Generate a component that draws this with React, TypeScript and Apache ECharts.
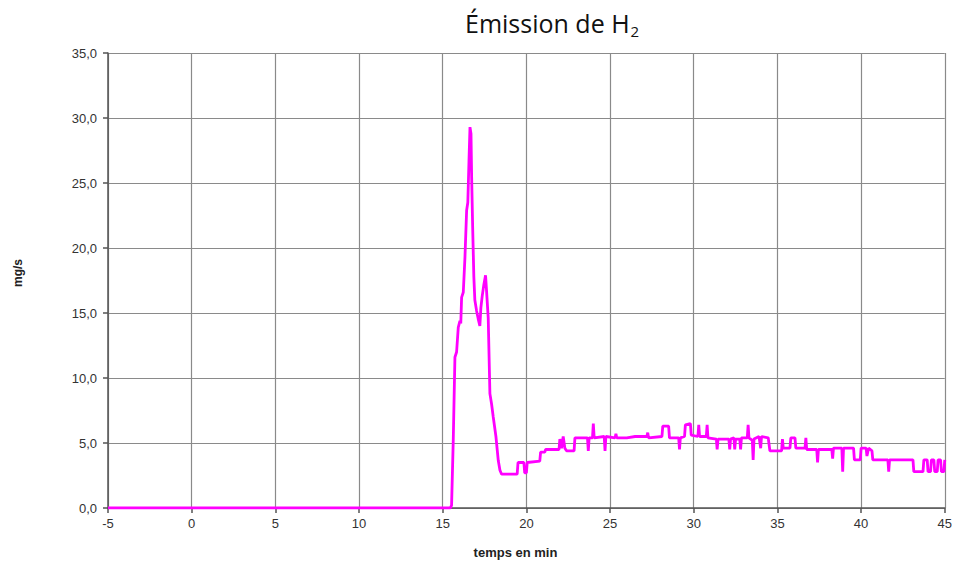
import React, { useEffect, useRef } from "react";
import * as echarts from "echarts";

// time in minutes
const timeMin: number[] = [
  -5, 15.45, 15.53, 15.63, 15.73, 15.83, 15.93, 16.03, 16.08, 16.13, 16.23, 16.33, 16.43, 16.5, 16.57, 16.63,
  16.69, 16.73, 16.79, 16.86, 16.92, 17.02, 17.12, 17.22, 17.28, 17.36, 17.46, 17.56, 17.62, 17.72, 17.82,
  17.92, 18.02, 18.18, 18.32, 18.42, 18.52, 19.45, 19.5, 19.85, 19.9, 20.0, 20.05, 20.8, 20.85, 21.1, 21.15,
  21.95, 22.0, 22.1, 22.2, 22.3, 22.4, 22.85, 22.9, 23.65, 23.7, 23.75, 23.95, 24.0, 24.05, 24.65, 24.7, 24.75,
  25.3, 25.35, 25.4, 26.0, 26.5, 27.2, 27.25, 27.3, 28.1, 28.15, 28.5, 28.55, 29.1, 29.15, 29.2, 29.45, 29.5, 29.8, 29.85, 30.25, 30.3, 30.35, 30.75,
  30.8, 30.85, 31.35, 31.4, 31.45, 32.1, 32.15, 32.2, 32.4, 32.45, 32.5, 32.75, 32.8, 32.85, 33.2, 33.25, 33.3,
  33.5, 33.55, 33.6, 33.9, 34.0, 34.05, 34.45, 34.55, 35.25, 35.3, 35.35, 35.75, 35.8, 36.05, 36.1, 36.65,
  36.7, 36.75, 37.35, 37.4, 37.45, 38.25, 38.3, 38.35, 38.85, 38.9, 38.95, 39.55, 39.6, 39.95, 40.0, 40.3,
  40.35, 40.45, 40.65, 40.7, 41.6, 41.65, 41.7, 43.1, 43.15, 43.7, 43.75, 43.95, 44.0, 44.15, 44.2, 44.35,
  44.4, 44.55, 44.6, 44.75, 44.8, 44.95, 45.0,
];

// H2 emission in mg/s
const h2MgPerS: number[] = [
  0, 0, 0.2, 5.2, 11.6, 12.0, 13.9, 14.4, 14.2, 16.2, 16.6, 19.3, 22.9, 23.5, 26.7, 29.3,
  28.8, 25.4, 21.6, 17.8, 16.0, 15.2, 14.55, 14.0, 15.4, 16.3, 17.2, 17.9, 16.7, 14.6, 8.8,
  8.0, 7.0, 5.5, 3.65, 2.9, 2.6, 2.6, 3.5, 3.5, 2.7, 2.7, 3.5, 3.6, 4.3, 4.3, 4.5,
  4.5, 5.3, 4.6, 5.5, 4.6, 4.4, 4.4, 5.4, 5.4, 4.4, 5.4, 5.4, 6.5, 5.4, 5.5, 4.4, 5.5,
  5.4, 5.7, 5.4, 5.4, 5.5, 5.5, 5.8, 5.4, 5.5, 6.3, 6.3, 5.4, 5.4, 4.5, 5.4, 5.5, 6.4, 6.5, 5.6, 5.5, 6.4, 5.5, 5.5,
  6.4, 5.4, 5.3, 4.5, 5.3, 5.3, 4.5, 5.3, 5.4, 4.5, 5.3, 5.3, 4.5, 5.4, 5.4, 6.4, 5.4,
  5.2, 3.7, 5.3, 5.5, 4.6, 5.5, 5.4, 4.4, 4.4, 5.3, 4.6, 4.6, 5.4, 5.4, 4.6, 4.6,
  5.4, 4.5, 4.5, 3.5, 4.5, 4.5, 3.8, 4.6, 4.6, 2.8, 4.6, 4.6, 3.7, 3.7, 4.6, 4.6,
  4.0, 4.6, 4.4, 3.7, 3.7, 2.8, 3.7, 3.7, 2.8, 2.8, 3.7, 3.7, 2.8, 2.8, 3.7, 3.7,
  2.8, 2.8, 3.7, 3.7, 2.8, 2.8, 3.7,
];

const xMin = -5;
const xMax = 45;
const xStep = 5;
const yMin = 0;
const yMax = 35;
const yStep = 5;

export default function App() {
  const ref = useRef<HTMLDivElement>(null);
  useEffect(() => {
    if (!ref.current) return;
    const chart = echarts.init(ref.current, undefined, { renderer: "svg" });
    const data = timeMin.map((t, i) => [t, h2MgPerS[i]]);
    const labelFont = "'Liberation Sans', Arial, sans-serif";
    chart.setOption({
      animation: false,
      backgroundColor: "#ffffff",
      title: {
        text: "{a|Émission de H}{b|2}",
        left: 460,
        top: 3,
        textStyle: {
          fontWeight: "normal",
          rich: {
            a: {
              fontFamily: "'Open Sans', sans-serif",
              fontSize: 25,
              fontWeight: "normal",
              color: "#111",
              lineHeight: 30,
            },
            b: {
              fontFamily: "'Open Sans', sans-serif",
              fontSize: 15,
              fontWeight: "normal",
              color: "#111",
              verticalAlign: "bottom",
              lineHeight: 14,
              padding: [12, 0, 0, 1],
            },
          },
        },
      },
      grid: { left: 108, right: 10, top: 53, bottom: 53, containLabel: false },
      xAxis: {
        type: "value",
        min: xMin,
        max: xMax,
        interval: xStep,
        axisLine: { show: true, onZero: false, lineStyle: { color: "#555", width: 1.5 } },
        axisTick: { show: true, inside: false, length: 5, lineStyle: { color: "#555", width: 1.5 } },
        axisLabel: {
          margin: 9,
          fontFamily: labelFont,
          fontSize: 13,
          color: "#333",
          formatter: (v: number) => String(v),
        },
        splitLine: { show: true, lineStyle: { color: "#8a8a8a", width: 1.2 } },
      },
      yAxis: {
        type: "value",
        min: yMin,
        max: yMax,
        interval: yStep,
        axisLine: { show: true, onZero: false, lineStyle: { color: "#555", width: 1.5 } },
        axisTick: { show: true, inside: false, length: 5, lineStyle: { color: "#555", width: 1.5 } },
        axisLabel: {
          margin: 11,
          fontFamily: labelFont,
          fontSize: 13,
          color: "#333",
          formatter: (v: number) => v.toFixed(1).replace(".", ","),
        },
        splitLine: { show: true, lineStyle: { color: "#8a8a8a", width: 1.2 } },
      },
      graphic: [
        {
          type: "text",
          x: 515.5,
          y: 552,
          style: {
            text: "temps en min",
            fontFamily: labelFont,
            fontSize: 13,
            fontWeight: "bold",
            fill: "#222",
            align: "center",
            verticalAlign: "middle",
          },
        },
        {
          type: "text",
          x: 18,
          y: 273,
          rotation: Math.PI / 2,
          style: {
            text: "mg/s",
            fontFamily: labelFont,
            fontSize: 12,
            fontWeight: "bold",
            fill: "#222",
            align: "center",
            verticalAlign: "middle",
          },
        },
      ],
      series: [
        {
          type: "line",
          data,
          showSymbol: false,
          symbol: "none",
          lineStyle: { color: "#ff00ff", width: 2.8 },
          itemStyle: { color: "#ff00ff" },
          z: 5,
        },
      ],
    });
    return () => chart.dispose();
  }, []);
  return (
    <div
      ref={ref}
      style={{ position: "fixed", left: 0, top: 0, width: 955, height: 561, background: "#fff" }}
    />
  );
}
